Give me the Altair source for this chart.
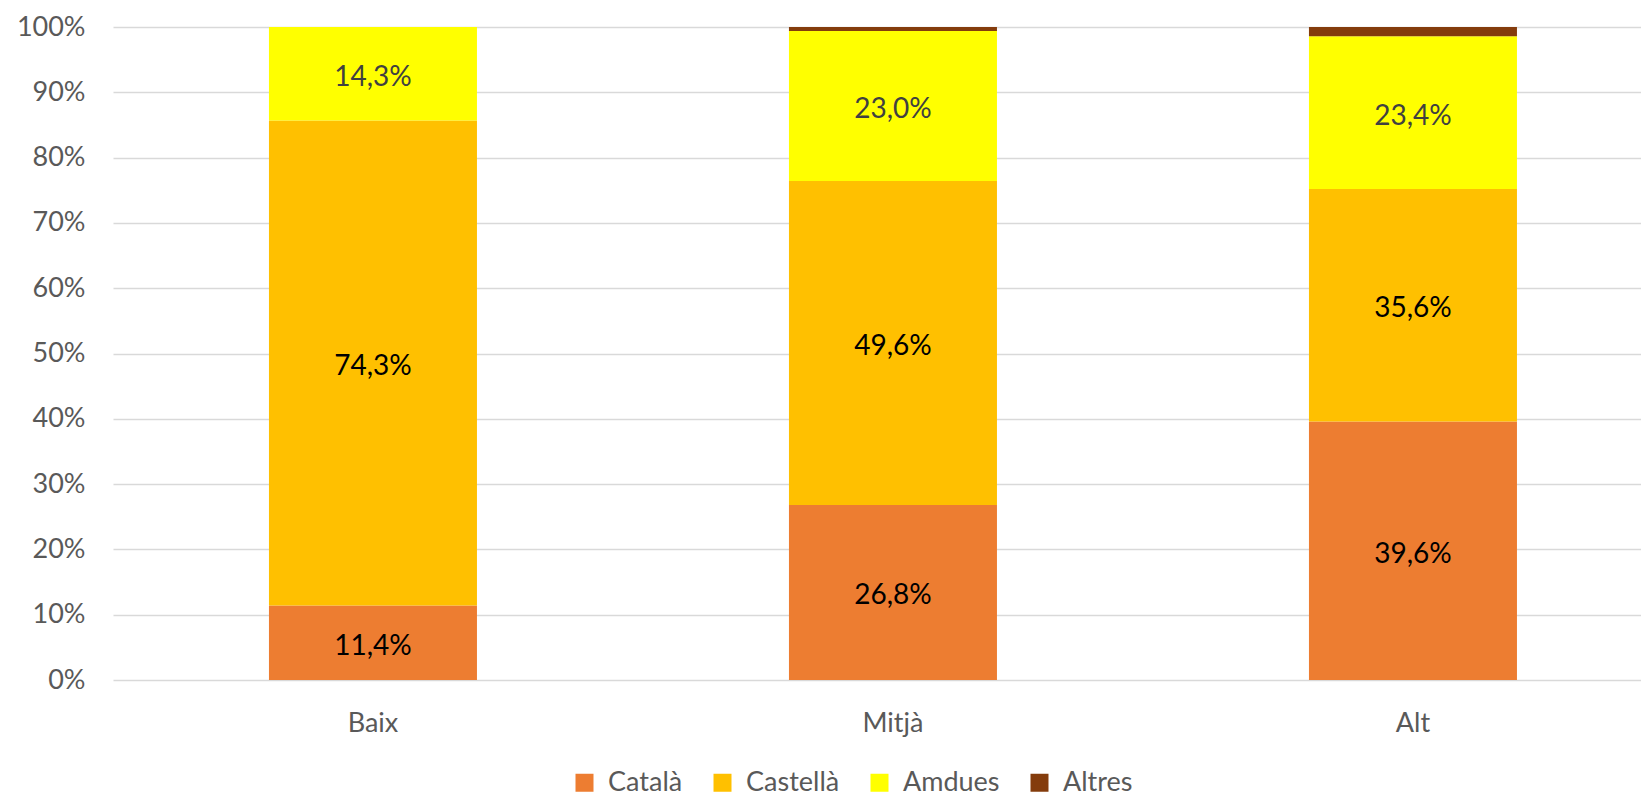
import altair as alt
import pandas as pd

categories = ["Baix", "Mitjà", "Alt"]
series = ["Català", "Castellà", "Amdues", "Altres"]
catala = [11.4, 26.8, 39.6]
castella = [74.3, 49.6, 35.6]
amdues = [14.3, 23.0, 23.4]
altres = [0.0, 0.6, 1.4]
colors = ["#ED7D31", "#FFC000", "#FFFF00", "#843C0C"]
label_colors = ["#000000", "#000000", "#404040", "#404040"]
y_ticks = [0, 10, 20, 30, 40, 50, 60, 70, 80, 90, 100]

rows = []
for si, (name, vals) in enumerate(zip(series, [catala, castella, amdues, altres])):
    for ci, cat in enumerate(categories):
        v = vals[ci]
        rows.append({
            "cat": cat,
            "serie": name,
            "order": si,
            "value": v,
            "label": (f"{v:.1f}".replace(".", ",") + "%") if name != "Altres" else "",
            "lcolor": label_colors[si],
        })
df = pd.DataFrame(rows)

FONT = "Lato"

x = alt.X("cat:N", sort=categories, title=None,
          scale=alt.Scale(paddingInner=0.6, paddingOuter=0.26923, align=0.557),
          axis=alt.Axis(labelAngle=0, labelFontSize=27, labelColor="#595959",
                        labelFont=FONT, ticks=False, domain=False, labelPadding=30,
                        grid=False))

bars = alt.Chart(df).mark_bar(stroke=None).encode(
    x=x,
    y=alt.Y("value:Q", stack="zero", title=None,
            scale=alt.Scale(domain=[0, 100], nice=False),
            axis=alt.Axis(values=y_ticks, labelExpr="datum.value + '%'",
                          labelFontSize=27, labelColor="#595959", labelFont=FONT,
                          ticks=False, domain=False, labelPadding=28,
                          gridColor="#D9D9D9", gridWidth=1.5)),
    color=alt.Color("serie:N", sort=series,
                    scale=alt.Scale(domain=series, range=colors),
                    legend=alt.Legend(title=None, orient="none", direction="horizontal",
                                      legendX=458, legendY=742,
                                      symbolType="square", symbolSize=324,
                                      symbolStrokeWidth=0, labelFontSize=27,
                                      labelFont=FONT, labelColor="#595959",
                                      labelOffset=10, columnPadding=26)),
    order=alt.Order("order:Q"),
)

text = alt.Chart(df).mark_text(fontSize=28, font=FONT, dy=4).transform_filter(
    "datum.label != ''"
).transform_stack(
    stack="value", groupby=["cat"], as_=["v0", "v1"], sort=[alt.SortField("order")]
).transform_calculate(
    mid="(datum.v0 + datum.v1) / 2"
).encode(
    x=alt.X("cat:N", sort=categories),
    y=alt.Y("mid:Q"),
    text="label:N",
    color=alt.Color("lcolor:N", scale=None, legend=None),
)

chart = alt.layer(bars, text).properties(
    width=1528, height=653,
    autosize=alt.AutoSizeParams(type="none"),
    padding={"left": 105, "top": 19, "right": 0, "bottom": 116},
).configure_view(stroke=None)

chart.save("out.html", embed_options={"renderer": "svg", "actions": False})
